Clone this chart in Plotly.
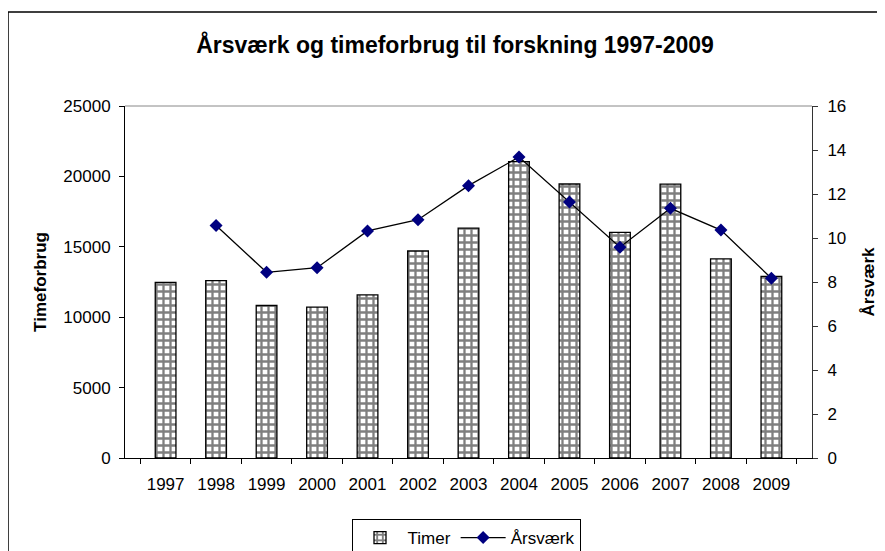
import plotly.graph_objects as go

years = ["1997", "1998", "1999", "2000", "2001", "2002", "2003", "2004",
         "2005", "2006", "2007", "2008", "2009"]
timer = [12480, 12600, 10830, 10720, 11580, 14700, 16320, 21050,
         19460, 16030, 19450, 14140, 12900]
aarsvaerk = [None, 10.57, 8.44, 8.65, 10.32, 10.83, 12.38, 13.68,
             11.64, 9.58, 11.35, 10.36, 8.17]

W, H = 885, 551
OFF = 8  # page body margin
L, R, T, B = 125 - OFF, 812 - OFF, 106 - OFF, 458 - OFF
pw, ph = R - L, B - T

font = "Liberation Sans, Arial, sans-serif"

fig = go.Figure()
fig.add_trace(go.Bar(
    x=years, y=timer, name="Timer", width=0.41,
    marker=dict(color="white", line=dict(color="black", width=1.3),
                pattern=dict(shape="+", size=7, solidity=0.55,
                             fgcolor="black", bgcolor="white")),
))
fig.add_trace(go.Scatter(
    x=years, y=aarsvaerk, name="Årsværk", yaxis="y2", mode="lines+markers",
    line=dict(color="black", width=1.3),
    marker=dict(symbol="diamond", size=10, color="#000080"),
))

fig.update_layout(
    width=W, height=H,
    margin=dict(l=L, r=W - R, t=T, b=H - B, autoexpand=False),
    paper_bgcolor="white", plot_bgcolor="white",
    font=dict(family=font, size=17, color="black"),
    title=dict(text="<b>Årsværk og timeforbrug til forskning 1997-2009</b>",
               x=(455 - OFF) / W, xref="container", xanchor="center",
               y=1 - (45 - OFF) / H, yref="container", yanchor="middle",
               font=dict(size=23)),
    showlegend=True,
    legend=dict(orientation="h", x=(466 - OFF - L) / pw, xanchor="center",
                y=(B - (519 - OFF)) / ph, yanchor="top",
                bordercolor="black", borderwidth=1,
                font=dict(size=17), itemwidth=45, tracegroupgap=0),
    xaxis=dict(type="category", showline=True, linecolor="black", linewidth=1,
               ticks="outside", tickson="boundaries", ticklen=5,
               tickcolor="black", showgrid=False, automargin=False,
               ticklabelstandoff=11, tickfont=dict(size=17)),
    yaxis=dict(range=[0, 25000], dtick=5000, tickformat="d", showline=True,
               linecolor="black", automargin=False,
               linewidth=1, ticks="outside", ticklen=5, tickcolor="black",
               showgrid=False, zeroline=False, tickfont=dict(size=17),
               ticklabelstandoff=5,
               title=dict(text="<b>Timeforbrug</b>", font=dict(size=17),
                          standoff=12)),
    yaxis2=dict(range=[0, 16], dtick=2, overlaying="y", side="right",
                showline=True, linecolor="#333333", linewidth=1,
                automargin=False, ticklabelstandoff=6,
                ticks="outside", ticklen=5, tickcolor="#333333",
                showgrid=False, zeroline=False, tickfont=dict(size=17),
                title=dict(text="<b>Årsværk</b>", font=dict(size=17),
                           standoff=16)),
    shapes=[
        dict(type="line", xref="paper", yref="paper", x0=0, x1=1, y0=1, y1=1,
             line=dict(color="#888888", width=1)),
        dict(type="rect", xref="paper", yref="paper",
             x0=(8 - OFF - L) / pw, x1=(900 - L) / pw,
             y0=(B - 600) / ph, y1=(B - (12 - OFF)) / ph,
             line=dict(color="black", width=1.5), layer="below"),
    ],
)

fig.write_html("out.html")
